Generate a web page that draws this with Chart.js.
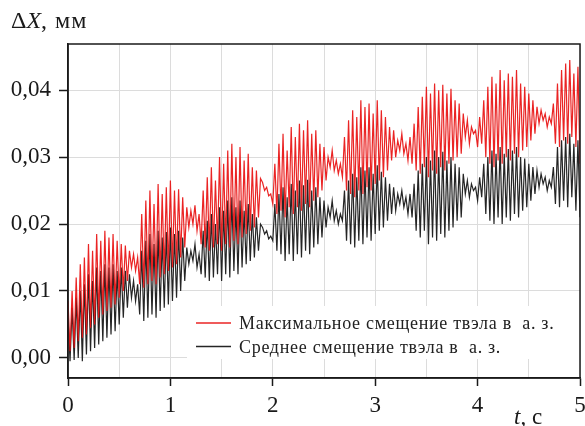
<!DOCTYPE html>
<html>
<head>
<meta charset="utf-8">
<script src="https://cdn.jsdelivr.net/npm/chart.js@4/dist/chart.umd.min.js"></script>
<style>
  html, body { margin: 0; padding: 0; background: #fff; }
  #chart { display: block; }
</style>
</head>
<body>
<canvas id="chart" width="585" height="426"></canvas>
<script>
// time span of the record, seconds
const tStart = 0;
const tEnd = 5;

// max displacement of the fuel rod in the core, mm (every 0.02 s)
const maxShift = [
  0.0085, 0.0010, 0.0100, 0.0015, 0.0120, 0.0025, 0.0140, 0.0030, 0.0150, 0.0035,
  0.0170, 0.0045, 0.0160, 0.0050, 0.0185, 0.0060, 0.0175, 0.0065, 0.0190, 0.0070,
  0.0180, 0.0075, 0.0185, 0.0080, 0.0175, 0.0090, 0.0170, 0.0100, 0.0168, 0.0115,
  0.0160, 0.0135, 0.0155, 0.0130, 0.0150, 0.0110, 0.0215, 0.0105, 0.0235, 0.0110,
  0.0250, 0.0115, 0.0230, 0.0110, 0.0260, 0.0120, 0.0245, 0.0125, 0.0255, 0.0130,
  0.0265, 0.0135, 0.0250, 0.0140, 0.0252, 0.0150, 0.0240, 0.0165, 0.0225, 0.0195,
  0.0220, 0.0200, 0.0228, 0.0190, 0.0215, 0.0170, 0.0250, 0.0165, 0.0270, 0.0160,
  0.0285, 0.0165, 0.0265, 0.0170, 0.0300, 0.0160, 0.0290, 0.0170, 0.0310, 0.0165,
  0.0320, 0.0175, 0.0300, 0.0170, 0.0315, 0.0180, 0.0295, 0.0185, 0.0305, 0.0190,
  0.0285, 0.0195, 0.0280, 0.0210, 0.0268, 0.0262, 0.0250, 0.0255, 0.0242, 0.0245,
  0.0230, 0.0290, 0.0215, 0.0320, 0.0220, 0.0335, 0.0210, 0.0310, 0.0225, 0.0345,
  0.0215, 0.0330, 0.0225, 0.0350, 0.0220, 0.0340, 0.0230, 0.0355, 0.0225, 0.0335,
  0.0235, 0.0340, 0.0240, 0.0320, 0.0250, 0.0315, 0.0265, 0.0300, 0.0285, 0.0310,
  0.0280, 0.0295, 0.0275, 0.0290, 0.0270, 0.0330, 0.0250, 0.0355, 0.0245, 0.0370,
  0.0240, 0.0360, 0.0250, 0.0385, 0.0245, 0.0375, 0.0255, 0.0380, 0.0250, 0.0365,
  0.0260, 0.0385, 0.0265, 0.0370, 0.0270, 0.0360, 0.0280, 0.0345, 0.0295, 0.0340,
  0.0300, 0.0325, 0.0310, 0.0335, 0.0305, 0.0320, 0.0295, 0.0330, 0.0290, 0.0350,
  0.0280, 0.0375, 0.0275, 0.0390, 0.0285, 0.0405, 0.0270, 0.0395, 0.0280, 0.0410,
  0.0275, 0.0400, 0.0285, 0.0408, 0.0280, 0.0395, 0.0290, 0.0402, 0.0295, 0.0385,
  0.0300, 0.0380, 0.0305, 0.0365, 0.0330, 0.0355, 0.0320, 0.0345, 0.0335, 0.0340,
  0.0315, 0.0360, 0.0320, 0.0385, 0.0300, 0.0405, 0.0290, 0.0420, 0.0285, 0.0410,
  0.0295, 0.0430, 0.0290, 0.0415, 0.0300, 0.0425, 0.0295, 0.0420, 0.0305, 0.0430,
  0.0300, 0.0410, 0.0310, 0.0405, 0.0315, 0.0395, 0.0325, 0.0385, 0.0335, 0.0375,
  0.0350, 0.0370, 0.0355, 0.0365, 0.0345, 0.0360, 0.0350, 0.0380, 0.0320, 0.0410,
  0.0315, 0.0430, 0.0325, 0.0440, 0.0320, 0.0445, 0.0330, 0.0425, 0.0315, 0.0435,
  0.0290
];

// mean displacement of the fuel rod in the core, mm
const meanShift = [
  0.0060, -0.0005, 0.0075, -0.0003, 0.0090, 0.0000, 0.0100, -0.0005, 0.0110, 0.0005,
  0.0125, 0.0010, 0.0115, 0.0015, 0.0135, 0.0020, 0.0130, 0.0025, 0.0140, 0.0030,
  0.0135, 0.0035, 0.0140, 0.0040, 0.0130, 0.0050, 0.0135, 0.0060, 0.0130, 0.0075,
  0.0125, 0.0090, 0.0115, 0.0085, 0.0110, 0.0065, 0.0160, 0.0055, 0.0175, 0.0060,
  0.0185, 0.0065, 0.0170, 0.0060, 0.0190, 0.0070, 0.0180, 0.0075, 0.0188, 0.0080,
  0.0195, 0.0085, 0.0185, 0.0090, 0.0190, 0.0100, 0.0180, 0.0115, 0.0165, 0.0140,
  0.0160, 0.0145, 0.0170, 0.0135, 0.0155, 0.0125, 0.0190, 0.0120, 0.0205, 0.0115,
  0.0215, 0.0120, 0.0200, 0.0125, 0.0225, 0.0115, 0.0220, 0.0125, 0.0235, 0.0120,
  0.0240, 0.0130, 0.0225, 0.0125, 0.0235, 0.0135, 0.0220, 0.0140, 0.0230, 0.0145,
  0.0215, 0.0150, 0.0210, 0.0160, 0.0200, 0.0195, 0.0185, 0.0190, 0.0178, 0.0182,
  0.0175, 0.0230, 0.0160, 0.0245, 0.0155, 0.0255, 0.0145, 0.0240, 0.0155, 0.0260,
  0.0145, 0.0250, 0.0155, 0.0265, 0.0150, 0.0258, 0.0160, 0.0266, 0.0155, 0.0250,
  0.0165, 0.0255, 0.0170, 0.0240, 0.0180, 0.0235, 0.0195, 0.0225, 0.0210, 0.0235,
  0.0205, 0.0220, 0.0200, 0.0215, 0.0205, 0.0250, 0.0175, 0.0265, 0.0170, 0.0275,
  0.0165, 0.0270, 0.0175, 0.0285, 0.0170, 0.0280, 0.0180, 0.0285, 0.0175, 0.0275,
  0.0185, 0.0288, 0.0190, 0.0278, 0.0195, 0.0270, 0.0205, 0.0260, 0.0215, 0.0255,
  0.0220, 0.0245, 0.0230, 0.0250, 0.0225, 0.0240, 0.0215, 0.0245, 0.0210, 0.0260,
  0.0190, 0.0280, 0.0180, 0.0290, 0.0190, 0.0300, 0.0170, 0.0295, 0.0180, 0.0310,
  0.0175, 0.0300, 0.0185, 0.0308, 0.0180, 0.0295, 0.0190, 0.0300, 0.0195, 0.0290,
  0.0205, 0.0285, 0.0210, 0.0275, 0.0245, 0.0265, 0.0240, 0.0260, 0.0250, 0.0255,
  0.0235, 0.0270, 0.0240, 0.0290, 0.0215, 0.0300, 0.0205, 0.0310, 0.0200, 0.0305,
  0.0210, 0.0315, 0.0200, 0.0305, 0.0210, 0.0312, 0.0205, 0.0310, 0.0215, 0.0315,
  0.0210, 0.0300, 0.0220, 0.0298, 0.0225, 0.0290, 0.0235, 0.0285, 0.0245, 0.0280,
  0.0255, 0.0275, 0.0260, 0.0270, 0.0250, 0.0265, 0.0255, 0.0285, 0.0230, 0.0315,
  0.0225, 0.0325, 0.0235, 0.0330, 0.0225, 0.0335, 0.0240, 0.0320, 0.0220, 0.0325,
  0.0210
];

const seriesNames = ['Максимальное смещение твэла в  а. з.', 'Среднее смещение твэла в  а. з.'];
const xTickValues = [0, 0.5, 1, 1.5, 2, 2.5, 3, 3.5, 4, 4.5, 5];
const yTickValues = [0, 0.01, 0.02, 0.03, 0.04];
const yMin = -0.003;
const yMax = 0.0469;

const SERIF = '"Liberation Serif", "DejaVu Serif", serif';
const INK = '#1a1a1a';

function toPoints(values) {
  const step = (tEnd - tStart) / (values.length - 1);
  return values.map((v, i) => ({ x: tStart + i * step, y: v }));
}

// frame, axis captions and the legend box inside the plot
const decorPlugin = {
  id: 'decor',
  afterDraw(chart) {
    const ctx = chart.ctx;
    const a = chart.chartArea;
    ctx.save();

    // legend box (covers the grid)
    const lx = 187, ly = 306, lw = a.right - 187, lh = 53;
    ctx.fillStyle = '#fff';
    ctx.fillRect(lx, ly, lw, lh);
    chart.data.datasets.forEach((ds, i) => {
      const y = 323 + i * 23.5;
      ctx.strokeStyle = ds.borderColor;
      ctx.lineWidth = 1.3;
      ctx.beginPath();
      ctx.moveTo(196, y);
      ctx.lineTo(231, y);
      ctx.stroke();
      ctx.fillStyle = '#222';
      ctx.font = '18px ' + SERIF;
      ctx.letterSpacing = '0.7px';
      ctx.textBaseline = 'alphabetic';
      ctx.fillText(ds.label, 239, y + 6);
      ctx.letterSpacing = '0px';
    });

    // frame
    ctx.strokeStyle = INK;
    ctx.lineWidth = 1.5;
    ctx.strokeRect(a.left, a.top, a.right - a.left, a.bottom - a.top);

    // y caption: ΔX, мм
    ctx.fillStyle = INK;
    ctx.textBaseline = 'alphabetic';
    let x = 11;
    ctx.font = '24px ' + SERIF;
    ctx.fillText('Δ', x, 28);
    x += ctx.measureText('Δ').width;
    ctx.font = 'italic 24px ' + SERIF;
    ctx.fillText('X', x, 28);
    x += ctx.measureText('X').width;
    ctx.font = '24px ' + SERIF;
    ctx.letterSpacing = '1px';
    ctx.fillText(', мм', x, 28);
    ctx.letterSpacing = '0px';

    // x caption: t, c
    x = 514;
    ctx.font = 'italic 23px ' + SERIF;
    ctx.fillText('t', x, 424);
    x += ctx.measureText('t').width;
    ctx.font = '23px ' + SERIF;
    ctx.fillText(', c', x, 424);

    ctx.restore();
  }
};

new Chart(document.getElementById('chart'), {
  type: 'line',
  data: {
    datasets: [
      {
        label: seriesNames[0],
        data: toPoints(maxShift),
        borderColor: 'rgba(232, 12, 12, 0.9)',
        borderWidth: 1.2,
        pointRadius: 0,
        tension: 0,
        fill: false
      },
      {
        label: seriesNames[1],
        data: toPoints(meanShift),
        borderColor: 'rgba(25, 25, 25, 0.95)',
        borderWidth: 1.2,
        pointRadius: 0,
        tension: 0,
        fill: false
      }
    ]
  },
  options: {
    responsive: false,
    animation: false,
    layout: { padding: { left: 0, right: 5, top: 44, bottom: 0 } },
    plugins: {
      legend: { display: false },
      tooltip: { enabled: false }
    },
    scales: {
      x: {
        type: 'linear',
        min: tStart,
        max: tEnd,
        afterBuildTicks(scale) {
          scale.ticks = xTickValues.map(v => ({ value: v }));
        },
        afterFit(scale) {
          scale.height = 48;
          scale.paddingLeft = 0;
          scale.paddingRight = 0;
        },
        grid: {
          color: '#dcdcdc',
          lineWidth: 1,
          tickLength: 8,
          tickColor: c => (c.tick && Number.isInteger(c.tick.value)) ? INK : 'rgba(0,0,0,0)',
          tickWidth: 1.5
        },
        border: { display: true, color: INK, width: 1.5 },
        ticks: {
          autoSkip: false,
          maxRotation: 0,
          padding: 6,
          color: INK,
          font: { family: SERIF, size: 23 },
          callback: v => Number.isInteger(v) ? String(v) : ''
        }
      },
      y: {
        type: 'linear',
        min: yMin,
        max: yMax,
        afterBuildTicks(scale) {
          scale.ticks = yTickValues.map(v => ({ value: v }));
        },
        afterFit(scale) {
          scale.width = 68;
          scale.paddingTop = 0;
          scale.paddingBottom = 0;
        },
        grid: {
          color: '#dcdcdc',
          lineWidth: 1,
          tickLength: 9,
          tickColor: INK,
          tickWidth: 1.5
        },
        border: { display: true, color: INK, width: 1.5 },
        ticks: {
          padding: 8,
          color: INK,
          font: { family: SERIF, size: 23 },
          callback: v => v.toFixed(2).replace('.', ',')
        }
      }
    }
  },
  plugins: [decorPlugin]
});
</script>
</body>
</html>
